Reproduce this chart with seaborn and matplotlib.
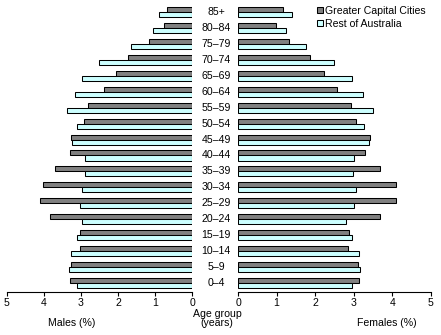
import matplotlib
matplotlib.use("Agg")
import matplotlib.pyplot as plt
import matplotlib.transforms as mtransforms
import seaborn as sns
import pandas as pd

# Age groups, oldest first (drawn top to bottom)
age_groups = ["85+", "80–84", "75–79", "70–74", "65–69", "60–64", "55–59",
              "50–54", "45–49", "40–44", "35–39", "30–34", "25–29", "20–24",
              "15–19", "10–14", "5–9", "0–4"]

# Share of population (%) by age group
males_gcc = [0.68, 0.77, 1.17, 1.74, 2.06, 2.39, 2.82, 2.93, 3.28, 3.31,
             3.71, 4.04, 4.12, 3.85, 3.04, 3.04, 3.28, 3.31]
males_roa = [0.88, 1.06, 1.66, 2.52, 2.96, 3.15, 3.39, 3.12, 3.25, 2.90,
             2.88, 2.98, 3.04, 2.98, 3.12, 3.28, 3.33, 3.12]
females_gcc = [1.17, 0.99, 1.32, 1.87, 2.23, 2.57, 2.94, 3.06, 3.43, 3.30,
               3.69, 4.10, 4.10, 3.69, 2.88, 2.86, 3.12, 3.14]
females_roa = [1.40, 1.25, 1.77, 2.49, 2.96, 3.25, 3.51, 3.27, 3.40, 3.01,
               2.99, 3.06, 3.01, 2.81, 2.96, 3.14, 3.17, 2.96]

series_names = ["Greater Capital Cities", "Rest of Australia"]
palette = {"Greater Capital Cities": "#808080", "Rest of Australia": "#ccffff"}


def long_frame(gcc, roa):
    rows = []
    for name, vals in zip(series_names, (gcc, roa)):
        for age, v in zip(age_groups, vals):
            rows.append({"age": age, "region": name, "pct": v})
    return pd.DataFrame(rows)


males = long_frame(males_gcc, males_roa)
females = long_frame(females_gcc, females_roa)

sns.set_style("white")
plt.rcParams["font.family"] = ["Liberation Sans", "DejaVu Sans"]
plt.rcParams["text.color"] = "black"
plt.rcParams["xtick.color"] = "black"
plt.rcParams["xtick.labelcolor"] = "black"
FS = 7.6
plt.rcParams["font.size"] = FS

W, H = 441, 335
fig = plt.figure(figsize=(W / 100, H / 100), dpi=100)
ax_m = fig.add_axes([7 / W, 43 / H, 185 / W, 292 / H])
ax_f = fig.add_axes([238 / W, 43 / H, 193 / W, 292 / H])

n = len(age_groups)
for ax, df in ((ax_m, males), (ax_f, females)):
    sns.barplot(data=df, x="pct", y="age", hue="region", order=age_groups,
                hue_order=series_names, palette=palette, orient="h",
                width=0.63, edgecolor="black", linewidth=0.75,
                saturation=1, ax=ax, legend=(ax is ax_f))
    ax.set_ylim(n - 1 + 0.557, -0.747)
    ax.set_yticks([])
    ax.set_ylabel("")
    ax.set_xlabel("")
    for side in ("left", "right", "top"):
        ax.spines[side].set_visible(False)
    ax.spines["bottom"].set_color("black")
    ax.spines["bottom"].set_linewidth(0.8)
    ax.set_xticks(range(6))
    ax.tick_params(axis="x", direction="out", length=3, width=0.8,
                   color="black", labelcolor="black", pad=1.5,
                   labelsize=FS, bottom=True)
    ax.set_facecolor("none")

ax_m.set_xlim(5, 0)
ax_f.set_xlim(0, 5)

# Age group labels between the two panels
trans = mtransforms.blended_transform_factory(fig.transFigure, ax_f.transData)
for i, age in enumerate(age_groups):
    ax_f.text(216 / W, i, age, transform=trans, ha="center", va="center",
              fontsize=FS, color="black", clip_on=False)

fig.text(72 / W, 1 - 323 / H, "Males (%)", ha="center", va="center",
         fontsize=FS, color="black")
fig.text(387 / W, 1 - 323 / H, "Females (%)", ha="center", va="center",
         fontsize=FS, color="black")
fig.text(217 / W, 1 - 318.5 / H, "Age group\n(years)", ha="center", va="center",
         fontsize=FS, linespacing=0.8, color="black")

leg = ax_f.legend(loc="upper left", bbox_to_anchor=(317 / W, 1 - 6 / H),
                  bbox_transform=fig.transFigure, frameon=False, fontsize=FS,
                  handlelength=0.55, handleheight=0.55, handletextpad=0.25,
                  labelspacing=0.28, borderaxespad=0, borderpad=0)
for h in leg.legend_handles:
    h.set_edgecolor("black")
    h.set_linewidth(0.75)
for t in leg.get_texts():
    t.set_color("black")

fig.savefig("out.png", dpi=100)
